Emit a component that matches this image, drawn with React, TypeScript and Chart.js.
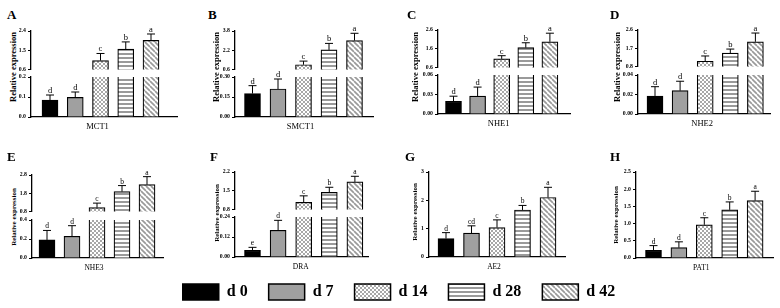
import React, { useEffect, useRef } from 'react';
import { Chart, registerables } from 'chart.js';

Chart.register(...registerables);

// ---------- data ----------
const groups = ['d 0', 'd 7', 'd 14', 'd 28', 'd 42'];

const mct1Mean = [0.085, 0.098, 1.02, 1.55, 1.96];
const mct1Sd = [0.025, 0.027, 0.33, 0.34, 0.3];
const mct1Sig = ['d', 'd', 'c', 'b', 'a'];
const mct1LowTicks = ['0.0', '0.1', '0.2'];
const mct1HighTicks = ['0.6', '1.5', '2.4'];

const smct1Mean = [0.176, 0.21, 1.0, 2.23, 3.01];
const smct1Sd = [0.059, 0.075, 0.3, 0.54, 0.6];
const smct1Sig = ['d', 'd', 'c', 'b', 'a'];
const smct1LowTicks = ['0.00', '0.15', '0.30'];
const smct1HighTicks = ['0.6', '2.2', '3.8'];

const nhe1Mean = [0.0196, 0.0274, 1.06, 1.66, 1.97];
const nhe1Sd = [0.0078, 0.014, 0.17, 0.26, 0.46];
const nhe1Sig = ['d', 'd', 'c', 'b', 'a'];
const nhe1LowTicks = ['0.00', '0.03', '0.06'];
const nhe1HighTicks = ['0.6', '1.6', '2.6'];

const nhe2Mean = [0.0185, 0.0239, 1.06, 1.46, 2.02];
const nhe2Sd = [0.0095, 0.0097, 0.26, 0.2, 0.43];
const nhe2Sig = ['d', 'd', 'c', 'b', 'a'];
const nhe2LowTicks = ['0.00', '0.02', '0.04'];
const nhe2HighTicks = ['0.8', '1.7', '2.6'];

const nhe3Mean = [0.19, 0.228, 1.01, 1.89, 2.27];
const nhe3Sd = [0.1, 0.112, 0.25, 0.33, 0.44];
const nhe3Sig = ['d', 'd', 'c', 'b', 'a'];
const nhe3LowTicks = ['0.0', '0.2', '0.4'];
const nhe3HighTicks = ['0.8', '1.8', '2.8'];

const draMean = [0.04, 0.16, 1.07, 1.44, 1.83];
const draSd = [0.018, 0.06, 0.24, 0.19, 0.21];
const draSig = ['e', 'd', 'c', 'b', 'a'];
const draLowTicks = ['0.00', '0.12', '0.24'];
const draHighTicks = ['0.8', '1.5', '2.2'];

const ae2Mean = [0.65, 0.84, 1.04, 1.66, 2.1];
const ae2Sd = [0.21, 0.26, 0.27, 0.16, 0.36];
const ae2Sig = ['d', 'cd', 'c', 'b', 'a'];
const ae2Ticks = ['0', '1', '2', '3'];

const pat1Mean = [0.225, 0.3, 0.965, 1.4, 1.67];
const pat1Sd = [0.135, 0.17, 0.205, 0.23, 0.27];
const pat1Sig = ['d', 'd', 'c', 'b', 'a'];
const pat1Ticks = ['0.0', '0.5', '1.0', '1.5', '2.0', '2.5'];

// ---------- layout ----------
const FONT = '"Liberation Serif", "Times New Roman", serif';
const YW = 26;
const PR = 2;

type Seg = { ticks: string[]; top: number; bottom: number };
type Panel = {
  letter: string; gene: string; mean: number[]; sd: number[]; sig: string[];
  segs: Seg[]; axisX: number; axisR: number; first: number; spacing: number;
  titleX: number; titleY: number; titleSize: number; lx: number; ly: number;
  geneSize: number;
};

const panels: Panel[] = [
  { letter: 'A', gene: 'MCT1', mean: mct1Mean, sd: mct1Sd, sig: mct1Sig,
    segs: [{ ticks: mct1HighTicks, top: 31, bottom: 71 }, { ticks: mct1LowTicks, top: 77, bottom: 117 }],
    axisX: 31, axisR: 177, first: 19, spacing: 25.25, titleX: 12.5, titleY: 67, titleSize: 8.5, lx: 7, ly: 10, geneSize: 8.5 },
  { letter: 'B', gene: 'SMCT1', mean: smct1Mean, sd: smct1Sd, sig: smct1Sig,
    segs: [{ ticks: smct1HighTicks, top: 31, bottom: 71 }, { ticks: smct1LowTicks, top: 77, bottom: 117 }],
    axisX: 235, axisR: 373, first: 17.5, spacing: 25.5, titleX: 216, titleY: 67, titleSize: 8.5, lx: 208, ly: 10, geneSize: 8.5 },
  { letter: 'C', gene: 'NHE1', mean: nhe1Mean, sd: nhe1Sd, sig: nhe1Sig,
    segs: [{ ticks: nhe1HighTicks, top: 30, bottom: 69 }, { ticks: nhe1LowTicks, top: 75, bottom: 114 }],
    axisX: 438, axisR: 570, first: 15.5, spacing: 24.1, titleX: 414.5, titleY: 67, titleSize: 8.5, lx: 407, ly: 10, geneSize: 8.5 },
  { letter: 'D', gene: 'NHE2', mean: nhe2Mean, sd: nhe2Sd, sig: nhe2Sig,
    segs: [{ ticks: nhe2HighTicks, top: 30, bottom: 68 }, { ticks: nhe2LowTicks, top: 75, bottom: 114 }],
    axisX: 638, axisR: 770, first: 17, spacing: 25.1, titleX: 616.5, titleY: 67, titleSize: 8.5, lx: 610, ly: 10, geneSize: 8.5 },
  { letter: 'E', gene: 'NHE3', mean: nhe3Mean, sd: nhe3Sd, sig: nhe3Sig,
    segs: [{ ticks: nhe3HighTicks, top: 175, bottom: 213 }, { ticks: nhe3LowTicks, top: 220, bottom: 258 }],
    axisX: 32, axisR: 163, first: 15, spacing: 25, titleX: 13.5, titleY: 216.5, titleSize: 7, lx: 7, ly: 152, geneSize: 7.5 },
  { letter: 'F', gene: 'DRA', mean: draMean, sd: draSd, sig: draSig,
    segs: [{ ticks: draHighTicks, top: 172, bottom: 211 }, { ticks: draLowTicks, top: 217, bottom: 257 }],
    axisX: 235, axisR: 368, first: 17.5, spacing: 25.6, titleX: 217, titleY: 212.5, titleSize: 7, lx: 210, ly: 152, geneSize: 7.5 },
  { letter: 'G', gene: 'AE2', mean: ae2Mean, sd: ae2Sd, sig: ae2Sig,
    segs: [{ ticks: ae2Ticks, top: 172, bottom: 257 }],
    axisX: 429, axisR: 565, first: 17, spacing: 25.5, titleX: 415, titleY: 212, titleSize: 7, lx: 405, ly: 152, geneSize: 7.5 },
  { letter: 'H', gene: 'PAT1', mean: pat1Mean, sd: pat1Sd, sig: pat1Sig,
    segs: [{ ticks: pat1Ticks, top: 172, bottom: 258 }],
    axisX: 636, axisR: 773, first: 17.5, spacing: 25.4, titleX: 615.5, titleY: 215, titleSize: 7, lx: 610, ly: 152, geneSize: 7.5 },
];

function segGeom(p: Panel, si: number) {
  const seg = p.segs[si];
  const isBase = si === p.segs.length - 1;
  const PT = si === 0 ? 14 : 26;
  const PB = isBase ? 18 : 4;
  return {
    left: p.axisX - YW,
    top: seg.top - PT,
    width: YW + (p.axisR - p.axisX) + PR,
    height: PT + (seg.bottom - seg.top) + PB,
    PT, PB, isBase,
  };
}

// ---------- patterns ----------
function makePatterns(): (string | CanvasPattern)[] {
  const mk = (w: number, h: number, draw: (c: CanvasRenderingContext2D) => void) => {
    const c = document.createElement('canvas');
    c.width = w; c.height = h;
    const g = c.getContext('2d')!;
    g.fillStyle = '#fff';
    g.fillRect(0, 0, w, h);
    draw(g);
    return g.createPattern(c, 'repeat') as CanvasPattern;
  };
  const checker = mk(4, 4, (g) => {
    g.fillStyle = '#a8a8a8';
    g.fillRect(0, 0, 2, 2);
    g.fillRect(2, 2, 2, 2);
  });
  const horiz = mk(4, 4, (g) => {
    g.fillStyle = '#9a9a9a';
    g.fillRect(0, 0, 4, 2);
  });
  const diag = mk(5, 5, (g) => {
    g.strokeStyle = '#9a9a9a';
    g.lineWidth = 1.7;
    for (let k = -1; k <= 1; k++) {
      g.beginPath();
      g.moveTo(k * 5, 0);
      g.lineTo(k * 5 + 5, 5);
      g.stroke();
    }
  });
  return ['#000000', '#a0a0a0', checker, horiz, diag];
}

function errPlugin(p: Panel, isBase: boolean) {
  return {
    id: 'errbars',
    afterDatasetsDraw(chart: any) {
      const { ctx, scales, chartArea } = chart;
      const x = scales.x;
      const y = scales.y;
      ctx.save();
      ctx.strokeStyle = '#000';
      ctx.fillStyle = '#000';
      ctx.lineWidth = 1;
      ctx.font = `${p.geneSize}px ${FONT}`;
      ctx.textAlign = 'center';
      ctx.textBaseline = 'alphabetic';
      p.mean.forEach((m, i) => {
        if (m < y.min || m > y.max) return;
        const px = x.getPixelForValue(i);
        const py = y.getPixelForValue(m);
        const pe = y.getPixelForValue(m + p.sd[i]);
        ctx.beginPath();
        ctx.moveTo(px, py);
        ctx.lineTo(px, pe);
        ctx.moveTo(px - 4, pe);
        ctx.lineTo(px + 4, pe);
        ctx.stroke();
        ctx.fillText(p.sig[i], px, pe - 2);
      });
      if (isBase) {
        ctx.font = `${p.geneSize}px ${FONT}`;
        ctx.fillText(p.gene, x.getPixelForValue(2) - 3, chartArea.bottom + 12);
      }
      ctx.restore();
    },
  };
}

export default function App() {
  const refs = useRef<Record<string, HTMLCanvasElement | null>>({});
  const legendRef = useRef<HTMLCanvasElement | null>(null);

  useEffect(() => {
    const pats = makePatterns();
    const charts: Chart[] = [];
    panels.forEach((p, pi) => {
      const xMin = -p.first / p.spacing;
      const xMax = xMin + (p.axisR - p.axisX) / p.spacing;
      p.segs.forEach((seg, si) => {
        const cv = refs.current[`${pi}-${si}`];
        if (!cv) return;
        const gm = segGeom(p, si);
        const tickVals = seg.ticks.map(Number);
        charts.push(
          new Chart(cv, {
            type: 'bar',
            data: {
              datasets: [
                {
                  data: p.mean.map((m, i) => ({ x: i, y: m })) as any,
                  backgroundColor: pats as any,
                  borderColor: '#000',
                  borderWidth: 1.2,
                  borderSkipped: 'start',
                  barThickness: 16,
                  grouped: false,
                  clip: 0 as any,
                },
              ],
            },
            options: {
              animation: false,
              responsive: false,
              devicePixelRatio: 1,
              events: [],
              layout: { autoPadding: false, padding: { top: gm.PT, bottom: gm.PB, left: 0, right: PR } } as any,
              plugins: { legend: { display: false }, tooltip: { enabled: false } },
              scales: {
                x: {
                  type: 'linear',
                  min: xMin,
                  max: xMax,
                  offset: false,
                  display: gm.isBase,
                  ticks: { display: false },
                  grid: { display: true, drawOnChartArea: false, drawTicks: false },
                  border: { display: true, color: '#000', width: 1.3 },
                  afterFit: (s: any) => { s.height = 0; },
                } as any,
                y: {
                  type: 'linear',
                  min: tickVals[0],
                  max: tickVals[tickVals.length - 1],
                  afterBuildTicks: (s: any) => { s.ticks = tickVals.map((v) => ({ value: v })); },
                  ticks: {
                    callback: (_v: any, i: number) => seg.ticks[i],
                    color: '#000',
                    padding: 2,
                    font: { family: FONT, size: 5.8, weight: 'bold' },
                  },
                  grid: { display: true, drawOnChartArea: false, drawTicks: true, tickLength: 3, color: '#000', lineWidth: 1 },
                  border: { display: true, color: '#000', width: 1.3 },
                  afterFit: (s: any) => { s.width = YW; },
                } as any,
              },
            },
            plugins: [errPlugin(p, gm.isBase)],
          })
        );
      });
    });

    if (legendRef.current) {
      charts.push(
        new Chart(legendRef.current, {
          type: 'bar',
          data: {
            labels: [],
            datasets: groups.map((g, i) => ({
              label: g,
              data: [],
              backgroundColor: pats[i] as any,
              borderColor: '#000',
              borderWidth: 1.5,
            })),
          },
          options: {
            animation: false,
            responsive: false,
            devicePixelRatio: 1,
            events: [],
            layout: { padding: { left: 18, right: 0, top: 0, bottom: 0 } },
            scales: { x: { display: false }, y: { display: false } },
            plugins: {
              tooltip: { enabled: false },
              legend: {
                display: true,
                position: 'top',
                labels: {
                  boxWidth: 36,
                  boxHeight: 16,
                  padding: 21,
                  color: '#000',
                  font: { family: FONT, size: 16, weight: 'bold' },
                },
              },
            },
          },
        })
      );
    }
    return () => charts.forEach((c) => c.destroy());
  }, []);

  return (
    <div style={{ position: 'fixed', left: 0, top: 0, width: 780, height: 308, overflow: 'hidden', background: '#fff' }}>
      {panels.map((p, pi) => (
        <React.Fragment key={p.letter}>
          <div
            style={{
              position: 'absolute', left: p.lx, top: p.ly - 2.5, font: `bold 13px ${FONT}`,
              lineHeight: '13px', color: '#000', whiteSpace: 'nowrap',
            }}
          >
            {p.letter}
          </div>
          <div
            style={{
              position: 'absolute', left: p.titleX, top: p.titleY,
              transform: 'translate(-50%, -50%) rotate(-90deg)',
              font: `bold ${p.titleSize}px ${FONT}`, lineHeight: 1, color: '#000', whiteSpace: 'nowrap',
            }}
          >
            Relative expression
          </div>
          {p.segs.map((_s, si) => {
            const gm = segGeom(p, si);
            return (
              <canvas
                key={si}
                ref={(el) => { refs.current[`${pi}-${si}`] = el; }}
                width={gm.width}
                height={gm.height}
                style={{ position: 'absolute', left: gm.left, top: gm.top, width: gm.width, height: gm.height }}
              />
            );
          })}
        </React.Fragment>
      ))}
      <canvas
        ref={legendRef}
        width={780}
        height={120}
        style={{ position: 'absolute', left: 0, top: 263, width: 780, height: 120 }}
      />
    </div>
  );
}
